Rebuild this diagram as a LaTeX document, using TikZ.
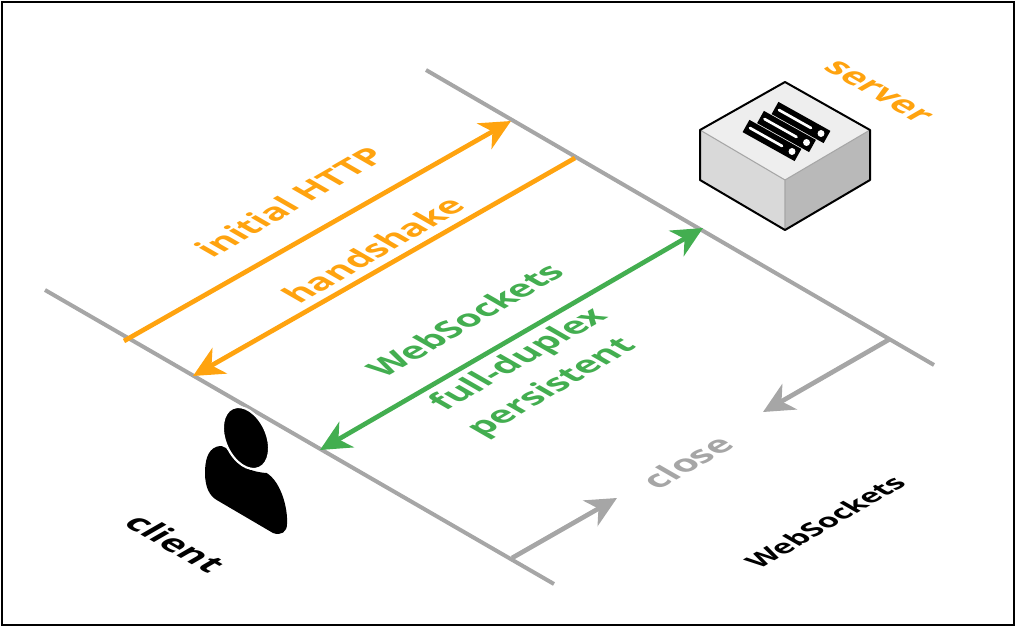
\documentclass[tikz,border=0pt]{standalone}
\usepackage{fontspec}
\setmainfont{Open Sans}
\usetikzlibrary{arrows.meta}
\definecolor{amber}{HTML}{FFA30F}
\definecolor{leaf}{HTML}{43AE50}
\definecolor{ash}{HTML}{A6A6A6}
\begin{document}
\begin{tikzpicture}
        [
            x=0.75pt, y=-0.75pt,
            >={Stealth[length=23pt,width=22pt,inset=7pt]},
            wire/.style={ash, line width=3pt},
            flow/.style={line width=3.5pt, #1},
            up/.style={transform shape, cm={.866,.5,-.8,.46,(#1)}, inner sep=0pt, font=\fontsize{26.5}{30}\selectfont\bfseries},
            down/.style={transform shape, cm={.866,-.5,.8,.46,(#1)}, inner sep=0pt, font=\fontsize{26.5}{30}\selectfont\bfseries},
            face/.style={draw=black, line width=1.5pt, line join=round}
        ]
        \useasboundingbox (0,0) rectangle (1016,627);
        \draw [black, line width=1.5pt] (2,2) rectangle (1014,625);
        % the two parties' lines
        \coordinate (s1) at (426,70);
        \coordinate (s2) at (934,365);
        \coordinate (c1) at (45,290);
        \coordinate (c2) at (554,584);
        \foreach \i/\j in {s1/s2,c1/c2}
            \draw [wire] (\i) -- (\j);
        % messages
        \coordinate (h1) at (124,341);
        \coordinate (h2) at (511,121);
        \coordinate (h3) at (575,158);
        \coordinate (h4) at (193,376);
        \coordinate (w1) at (320,450);
        \coordinate (w2) at (703,228);
        \coordinate (x1) at (890,339);
        \coordinate (x2) at (763,412);
        \coordinate (x3) at (512,558);
        \coordinate (x4) at (617,498);
        \foreach \i/\j in {h1/h2,h3/h4}
            \draw [flow=amber, ->] (\i) -- (\j);
        \draw [flow=leaf, <->] (w1) -- (w2);
        \foreach \i/\j in {x1/x2,x3/x4}
            \draw [flow=ash, ->] (\i) -- (\j);
        % labels
        \node (http) [up={290,202}, amber] {initial HTTP};
        \node (shake) [up={373,250}, amber] {handshake};
        \node (ws) [up={465,320}, leaf] {WebSockets};
        \node (fd) [up={520,360}, leaf] {full-duplex};
        \node (pers) [up={553,388}, leaf] {persistent};
        \node (close) [up={687,462}, ash] {close};
        \node (srv) [down={878,92}, amber] {server};
        \node (cli) [down={176,543}, black] {client};
        \node (wsb) [up={825,522}, black, font=\fontsize{21.5}{24}\selectfont\bfseries] {WebSockets};
        % server box
        \coordinate (t) at (785,82);
        \coordinate (r) at (870,130);
        \coordinate (l) at (700,130);
        \coordinate (m) at (785,180);
        \coordinate (b) at (785,230);
        \coordinate (rb) at (870,180);
        \coordinate (lb) at (700,180);
        \fill [gray!30] (l) -- (m) -- (b) -- (lb) -- cycle;
        \fill [gray!55] (r) -- (m) -- (b) -- (rb) -- cycle;
        \fill [gray!13] (t) -- (r) -- (m) -- (l) -- cycle;
        \draw [gray!70, line width=.8pt] (l) -- (m) -- (r) (m) -- (b);
        \draw [face] (t) -- (r) -- (rb) -- (b) -- (lb) -- (l) -- cycle;
        % rack slots
        \foreach \p/\q in {775/108,760.5/117,746/126} {
            \draw [black, line width=10.5pt] (\p,\q) -- ++(52,29);
            \draw [white, line width=2pt, line cap=round] (\p+4,\q+2) -- ++(32,18);
            \fill [white] (\p+46,\q+25.5) circle (2.6pt);
        }
        % person
        \fill [black] (216.7,446.7) .. controls (207,450) and (205,462) .. (205,473)
            .. controls (205,488) and (210,496) .. (216.7,500)
            -- (273,533) .. controls (281,536) and (287,532) .. (287,524)
            .. controls (288,508) and (281,482) .. (266.7,473)
            .. controls (250,472) and (240,466) .. (232,456)
            .. controls (228,450) and (225,444) .. (216.7,446.7) -- cycle;
        \filldraw [black, draw=white, line width=1.6pt, rotate around={-66:(246,438)}] (246,438) ellipse (24.5pt and 15.5pt);
\end{tikzpicture}
\end{document}
